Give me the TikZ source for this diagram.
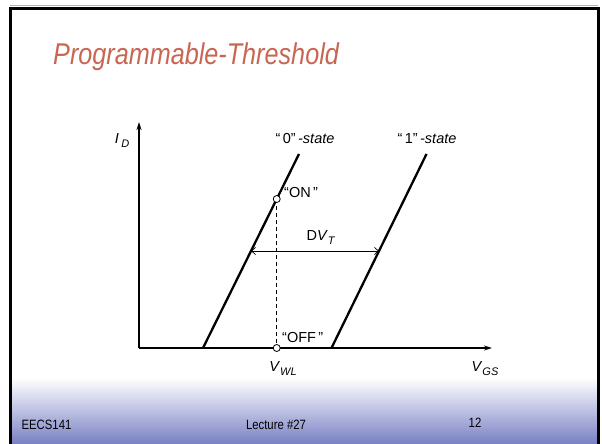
\documentclass[tikz,border=0pt]{standalone}
\usepackage{fontspec}
\setmainfont{Liberation Sans}
\newfontfamily\narrowfont[FakeStretch=0.84]{Liberation Sans}
\usetikzlibrary{arrows.meta,calc}
\definecolor{titlered}{RGB}{200,102,82}
\definecolor{footblue}{RGB}{120,128,196}
\newcommand{\sbs}[1]{\raisebox{-0.28em}{\fontsize{11}{12}\selectfont #1}}
\tikzset{
  axisline/.style={line width=1.6pt},
  curveline/.style={line width=2.3pt},
  thinline/.style={line width=0.7pt},
  lbl/.style={font=\fontsize{14.5}{16}\selectfont, inner sep=0pt},
  footlbl/.style={font=\narrowfont\fontsize{13.5}{16}\selectfont, inner sep=0pt, anchor=base},
  pt/.style={circle, draw, line width=0.8pt, fill=white, minimum size=7pt, inner sep=0pt}
}
\begin{document}
\begin{tikzpicture}[x=1pt,y=-1pt]
\useasboundingbox (0,0) rectangle (602,444);
\fill[white] (0,0) rectangle (602,444);
% footer gradient
\shade[top color=white, middle color=footblue!40, bottom color=footblue] (12,444) rectangle (597,378);
% frame
\draw[gray!60, line width=1pt] (10,5.5) -- (598,5.5);
\draw[black, line width=3pt] (10.5,460) -- (10.5,8.5) -- (598.5,8.5) -- (598.5,460);
% title
\node[anchor=base west, inner sep=0pt, text=titlered,
      font=\narrowfont\itshape\fontsize{30}{34}\selectfont] (title) at (53,65) {Programmable-Threshold};
% axes
\coordinate (O) at (139,348);
\coordinate (ytip) at (139,122);
\coordinate (xtip) at (492,348);
\coordinate (a0) at (203,348);
\coordinate (b0) at (299,154);
\coordinate (a1) at (331.5,348);
\coordinate (b1) at (426.5,154);
\draw[axisline, -{Stealth[length=8pt,width=5pt]}] (O) -- (ytip);
\draw[axisline, -{Stealth[length=8pt,width=5pt]}] (a1) -- (xtip);
\draw[curveline] (O) -- (a1);
\draw[curveline] (a0) -- (b0);
\draw[curveline] (a1) -- (b1);
% ON / OFF points
\coordinate (onpt) at ($(a0)!0.768!(b0)$);
\coordinate (offpt) at (onpt |- O);
\draw[thinline, dash pattern=on 4pt off 3pt] (onpt) -- (offpt);
\node[pt] (on) at (onpt) {};
\node[pt] (off) at (offpt) {};
% Delta VT arrow
\coordinate (dl) at ($(a0)!0.5!(b0)$);
\coordinate (dr) at ($(a1)!0.5!(b1)$);
\draw[thinline, {Straight Barb[length=4pt,width=7pt]}-{Straight Barb[length=4pt,width=7pt]}] (dl) -- (dr);
% labels
\node[lbl, anchor=base] (id) at (122,143) {\textit{I}\,\sbs{\textit{D}}};
\node[lbl, anchor=base] (s0) at (305,143) {“\,0”\,\textit{-state}};
\node[lbl, anchor=base] (s1) at (427,143) {“\,1”\,\textit{-state}};
\node[lbl, anchor=base west] (onl) at (284,197) {“ON\,”};
\node[lbl, anchor=base west] (offl) at (282,342) {“OFF\,”};
\node[lbl, anchor=base] (dvt) at (321,240) {D\textit{V}\sbs{\textit{T}}};
\node[lbl, anchor=base] (vwl) at (283,371) {\textit{V}\sbs{\textit{WL}}};
\node[lbl, anchor=base] (vgs) at (485,371) {\textit{V}\sbs{\textit{GS}}};
% footer
\node[footlbl] (f1) at (46.5,429) {EECS141};
\node[footlbl] (f2) at (276,429) {Lecture \#27};
\node[footlbl] (f3) at (475,427) {12};
\end{tikzpicture}
\end{document}
